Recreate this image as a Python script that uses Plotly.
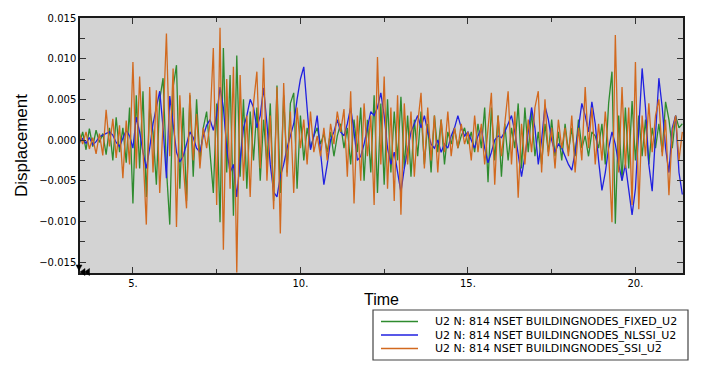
import numpy as np
import plotly.graph_objects as go

# Displacement values in units of 1e-3, sampled every 0.1 s starting at t = 3.4
T0 = 3.4
DT = 0.1
SCALE = 1e-3

fixed_e3 = [
    -0.5, 1.0, -1.2, 1.4, -0.8, 1.2, -0.3, 0.8, -1.8, 1.5,
    -2.5, 2.8, -1.5, 1.5, -2.8, 4.0, -7.8, 5.5, -3.5, 6.0,
    -7.0, 4.0, 1.0, -5.5, 5.0, 7.6, -3.5, -10.4, 6.5, 9.2,
    -6.0, 4.0, -7.5, 5.5, -4.5, 5.0, -2.5, 1.5, 3.5, -1.0,
    -6.5, 4.5, -10.1, 11.3, -4.0, 8.0, -9.3, 10.4, -4.5, 5.0,
    -6.0, 3.5, -2.5, 4.0, -5.0, 2.5, -3.0, 4.5, -7.5, 6.7,
    -6.5, 5.5, -4.0, 4.5, 5.8, -6.0, 3.0, -2.5, 1.5, -1.0,
    0.5, 1.5, -0.5, 0.8, -1.5, 1.0, -2.0, 0.5, 2.0, -1.0,
    1.5, -3.0, 2.5, -1.5, 4.0, -5.0, 2.5, -4.0, 5.5, -6.5,
    4.5, -5.5, 5.0, -4.0, 3.5, -2.5, 5.3, -3.5, 3.0, -4.5,
    2.5, -2.0, 3.5, -3.0, 2.0, -4.0, 3.0, -1.5, 2.5, -3.0,
    1.0, -0.5, 1.5, -1.0, 0.5, 1.5, -0.5, 1.0, -1.5, 2.0,
    -1.0, 4.0, -5.2, 4.0, -2.5, 3.0, -4.5, 2.0, -2.5, 1.5,
    -1.0, 4.5, -3.5, 4.0, -1.5, 3.5, -2.0, 1.0, -3.0, 2.0,
    -1.5, 2.5, -2.0, 1.0, -2.5, 2.0, -1.5, 1.5, -2.0, 2.5,
    -1.0, 0.5, -2.0, 1.0, 0.5, -1.0, 2.0, -3.0, 4.5, 8.4,
    -10.3, 3.0, -5.0, 4.0, -3.5, 4.8, -2.5, 3.0, -2.0, 2.5,
    -3.0, 1.5, -1.0, 2.0, -1.5, 4.7, 2.5, -1.0, 3.0, 1.5,
    2.0,
]

nlssi_e3 = [
    -0.2, 0.2, -0.4, 0.3, -0.6, -0.2, 0.4, 0.6, 0.9, 1.0,
    0.6, -0.3, -0.8, 0.2, 1.2, 0.5, -1.0, 2.8, 1.0, -1.5,
    -3.5, -1.0, 2.0, 4.0, 6.0, 1.5, -4.7, 5.4, 2.0, -1.5,
    -2.7, -2.0, -0.5, 1.0, 0.3, -1.0, -1.5, 0.5, 1.8, 2.5,
    1.2, 3.0, 6.5, 4.0, -1.0, -4.0, -3.0, -7.0, -2.5, 1.5,
    3.0, 5.0, 4.0, 1.5, 3.0, 6.4, 2.0, -3.0, -6.4, -7.0,
    -4.5, -3.0, -1.0, 0.5, 2.0, 5.0, 7.5, 9.0, 4.0, -1.2,
    0.5, 3.0, -1.5, -5.5, -3.0, 0.0, 1.0, 2.5, 1.0, 0.5,
    2.0, 4.0, 1.0, -2.5, -2.0, -0.5, 1.5, 3.5, 3.0, 4.0,
    5.8, 3.0, -1.0, -3.0, -1.5, -4.0, -6.4, -3.5, -1.0, 1.0,
    2.0, 3.0, 1.5, 3.0, 1.0, -0.5, -1.0, 0.0, -1.5, -0.5,
    -1.0, 0.5, 1.5, 3.0, 1.5, 0.5, 1.0, 0.0, -1.0, 0.5,
    1.5, -1.0, -2.8, -1.5, 0.0, 0.5, 0.3, 1.0, 2.0, 3.0,
    1.0, -2.0, -4.5, -2.0, 1.0, 4.0, 1.5, -3.0, 0.0, 4.2,
    2.5, 0.0, -1.5, -0.5, -1.0, -2.0, -3.0, -3.7, -1.5, 1.5,
    4.5, 3.0, 1.0, 4.7, 2.0, -2.5, -6.2, -4.0, -1.0, 1.0,
    -0.5, -3.0, -5.0, -3.0, -6.0, -9.2, -6.0, 2.0, 8.8, 4.0,
    -3.0, -6.3, 0.5, 7.6, 4.0, -1.0, -4.0, 1.5, 3.0, -4.0,
    -6.7,
]

ssi_e3 = [
    0.9, -0.5, 1.0, -1.1, 0.3, -1.7, 0.8, -1.9, 3.7, -0.8,
    2.6, -2.2, 1.8, -4.7, 2.4, -3.0, 9.6, -3.5, 7.8, -1.5,
    -10.4, 6.5, -4.0, 6.1, -6.5, 2.0, 13.1, -2.0, 8.8, -10.7,
    5.5, -3.0, -8.4, 5.8, -2.5, 3.2, -3.5, 1.5, -1.0, 2.0,
    11.3, -8.0, 13.8, -13.5, 7.5, -6.0, 9.0, -16.3, 8.0, -5.0,
    3.0, -7.0, 4.5, 8.4, -3.5, 10.1, -5.0, 3.0, -8.5, 6.5,
    -11.5, 7.0, -4.5, 3.5, -6.5, 4.0, -1.0, 2.5, -3.0, 3.5,
    -1.5, 0.5, -2.0, 1.5, -2.5, 2.0, -0.5, 3.5, 1.0, 3.8,
    -4.5, 6.0, -7.8, 3.0, -5.0, 4.5, -2.0, 3.0, -8.0, 10.2,
    -3.0, 7.8, -6.0, 4.0, -7.5, 5.5, -9.2, 4.5, -3.0, 3.5,
    -4.5, 2.0, 5.8, -3.5, 4.0, -2.5, 3.0, -4.0, 2.5, -1.5,
    3.5, -2.0, 1.5, -1.0, 2.0, -0.5, 1.0, -2.5, 3.0, -1.5,
    2.0, -3.0, 1.5, 5.8, -5.5, 3.0, -2.0, 2.5, 6.0, -3.0,
    3.5, -7.1, 2.0, -3.0, 2.5, -1.5, 4.0, 6.0, -4.0, 5.0,
    -2.0, 1.5, -3.5, 2.5, -1.0, 1.5, -2.0, 3.0, -4.0, 1.5,
    -2.5, 6.5, -1.0, 4.0, -3.0, 2.0, -2.5, 3.5, -1.5, -10.1,
    12.9, -4.0, 6.5, -3.5, 4.0, -8.0, 9.6, -8.5, 3.0, -2.0,
    4.5, -1.5, 3.0, 5.0, -2.0, 2.5, -6.8, 1.0, 3.0, -2.5,
    1.0,
]

series_names = [
    "U2 N: 814 NSET BUILDINGNODES_FIXED_U2",
    "U2 N: 814 NSET BUILDINGNODES_NLSSI_U2",
    "U2 N: 814 NSET BUILDINGNODES_SSI_U2",
]
series_colors = ["#2e8b2e", "#2020e0", "#d2691e"]

x_tick_vals = [5, 10, 15, 20]
x_tick_text = ["5.", "10.", "15.", "20."]
y_tick_vals = [0.015, 0.010, 0.005, 0.0, -0.005, -0.010, -0.015]

fig = go.Figure()
for vals, name, color in zip([fixed_e3, nlssi_e3, ssi_e3], series_names, series_colors):
    v = np.array(vals) * SCALE
    t = np.round(T0 + DT * np.arange(len(v)), 3)
    fig.add_trace(go.Scatter(x=t, y=v, mode="lines", name=name, showlegend=False,
                             line=dict(color=color, width=1.3)))

axis_common = dict(
    showline=True, linecolor="#1a1a1a", linewidth=1.5, mirror="ticks",
    ticks="inside", ticklen=6, tickcolor="#333333", tickwidth=1.3,
    showgrid=False, zeroline=False, automargin=False,
    tickfont=dict(family="DejaVu Sans", size=10, color="#000000"),
)

fig.update_xaxes(
    range=[3.42, 21.42], tickvals=x_tick_vals, ticktext=x_tick_text,
    minor=dict(ticks="inside", ticklen=4, dtick=2.5, tick0=0, tickcolor="#333333", showgrid=False),
    title=dict(text="Time", font=dict(family="Liberation Sans", size=16, color="#000"), standoff=6),
    **axis_common,
)
fig.update_yaxes(
    range=[-0.01635, 0.0150], tickvals=y_tick_vals, tickformat=".3f",
    minor=dict(ticks="inside", ticklen=5, dtick=0.0025, tick0=0, tickcolor="#333333", showgrid=False),
    title=dict(text="Displacement", font=dict(family="Liberation Sans", size=17, color="#000"), standoff=7),
    **axis_common,
)

# Custom compact legend box in paper coordinates (positions relative to the plot area)
PLOT_L, PLOT_R, PLOT_T, PLOT_B = 80, 683, 18, 273
def px(xp):
    return (xp - PLOT_L) / (PLOT_R - PLOT_L)
def py(yp):
    return (PLOT_B - yp) / (PLOT_B - PLOT_T)

shapes = [dict(type="rect", xref="paper", yref="paper",
               x0=px(373), x1=px(688), y0=py(360), y1=py(310),
               line=dict(color="#444444", width=1.2), fillcolor="white", layer="above")]
annotations = []
row_y = [321.5, 335, 348.5]
for ry, name, color in zip(row_y, series_names, series_colors):
    shapes.append(dict(type="line", xref="paper", yref="paper",
                       x0=px(381), x1=px(418), y0=py(ry), y1=py(ry),
                       line=dict(color=color, width=1.6)))
    annotations.append(dict(xref="paper", yref="paper", x=px(433), y=py(ry),
                            xanchor="left", yanchor="middle", showarrow=False,
                            text=name, font=dict(family="DejaVu Sans", size=11, color="#000")))

# small black corner markers (down triangle + two left triangles)
def tri_path(points):
    return "M " + " L ".join(f"{px(a):.5f},{py(b):.5f}" for a, b in points) + " Z"

for pts in [[(76, 265), (82, 265), (79, 270.5)],
            [(80, 272), (85, 268.5), (85, 275.5)],
            [(84.5, 272), (89.5, 268.5), (89.5, 275.5)]]:
    shapes.append(dict(type="path", xref="paper", yref="paper", path=tri_path(pts),
                       fillcolor="#000", line=dict(color="#000", width=0.5), layer="above"))

# The page body adds an 8 px offset, so margins are shifted to keep the plot area in place
fig.update_layout(
    width=708, height=371,
    margin=dict(l=72, r=33, t=10, b=106),
    paper_bgcolor="white", plot_bgcolor="#d3d3d3",
    showlegend=False,
    shapes=shapes, annotations=annotations,
)

fig.write_html("out.html")
